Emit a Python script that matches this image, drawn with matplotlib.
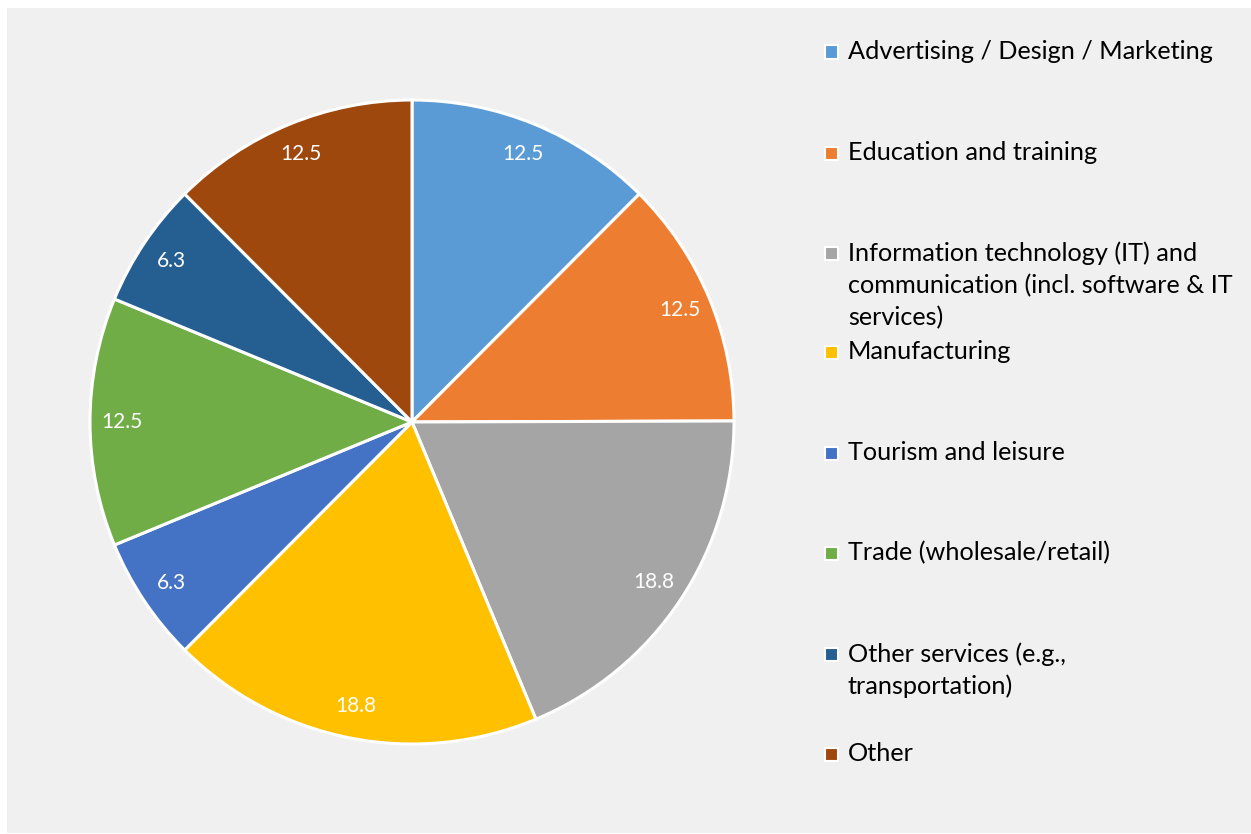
import matplotlib
matplotlib.use("Agg")
import matplotlib.pyplot as plt
from matplotlib.patches import Rectangle
import numpy as np

plt.rcParams['font.family'] = ['Lato', 'DejaVu Sans']

categories = [
    "Advertising / Design / Marketing",
    "Education and training",
    "Information technology (IT) and\ncommunication (incl. software & IT\nservices)",
    "Manufacturing",
    "Tourism and leisure",
    "Trade (wholesale/retail)",
    "Other services (e.g.,\ntransportation)",
    "Other",
]
values = [12.5, 12.5, 18.8, 18.8, 6.3, 12.5, 6.3, 12.5]
colors = ["#5B9BD5", "#ED7D31", "#A5A5A5", "#FFC000",
          "#4472C4", "#70AD47", "#255E91", "#9E480E"]

W, H = 1251, 834
fig = plt.figure(figsize=(W / 100, H / 100), dpi=100)
fig.patch.set_facecolor("white")

# grey chart area
bg = Rectangle((7 / W, 1 / H), 1 - 7 / W, (H - 9) / H, transform=fig.transFigure,
               facecolor="#f0f0f0", edgecolor="none", zorder=-5)
fig.patches.append(bg)

# pie: centre (412, 422) px, radius 322 px
cx, cy, r = 412, 422, 322
ax = fig.add_axes([(cx - r) / W, (H - cy - r) / H, 2 * r / W, 2 * r / H])
ax.set_zorder(2)
ax.set_facecolor("none")
wedges, _ = ax.pie(values, colors=colors, startangle=90, counterclock=False,
                   radius=1.0, wedgeprops=dict(edgecolor="white", linewidth=2.2))
ax.set_xlim(-1, 1)
ax.set_ylim(-1, 1)
ax.set_aspect("equal")
ax.axis("off")

for w, v in zip(wedges, values):
    ang = np.deg2rad((w.theta1 + w.theta2) / 2)
    ax.text(0.9 * np.cos(ang), 0.9 * np.sin(ang), f"{v}", color="white",
            fontsize=15, ha="center", va="center")

# legend drawn by hand
ys = [52, 153, 253, 352, 453, 553, 654, 754]
for name, col, y in zip(categories, colors, ys):
    fig.patches.append(Rectangle(((825) / W, (H - y - 6.5) / H), 13 / W, 13 / H,
                                 transform=fig.transFigure, facecolor=col,
                                 edgecolor="white", linewidth=1.5, zorder=3))
    fig.text(848 / W, (H - y + 12) / H, name, fontsize=18.2, va="top", ha="left",
             color="black", linespacing=1.47)

fig.savefig("out.png", dpi=100)
